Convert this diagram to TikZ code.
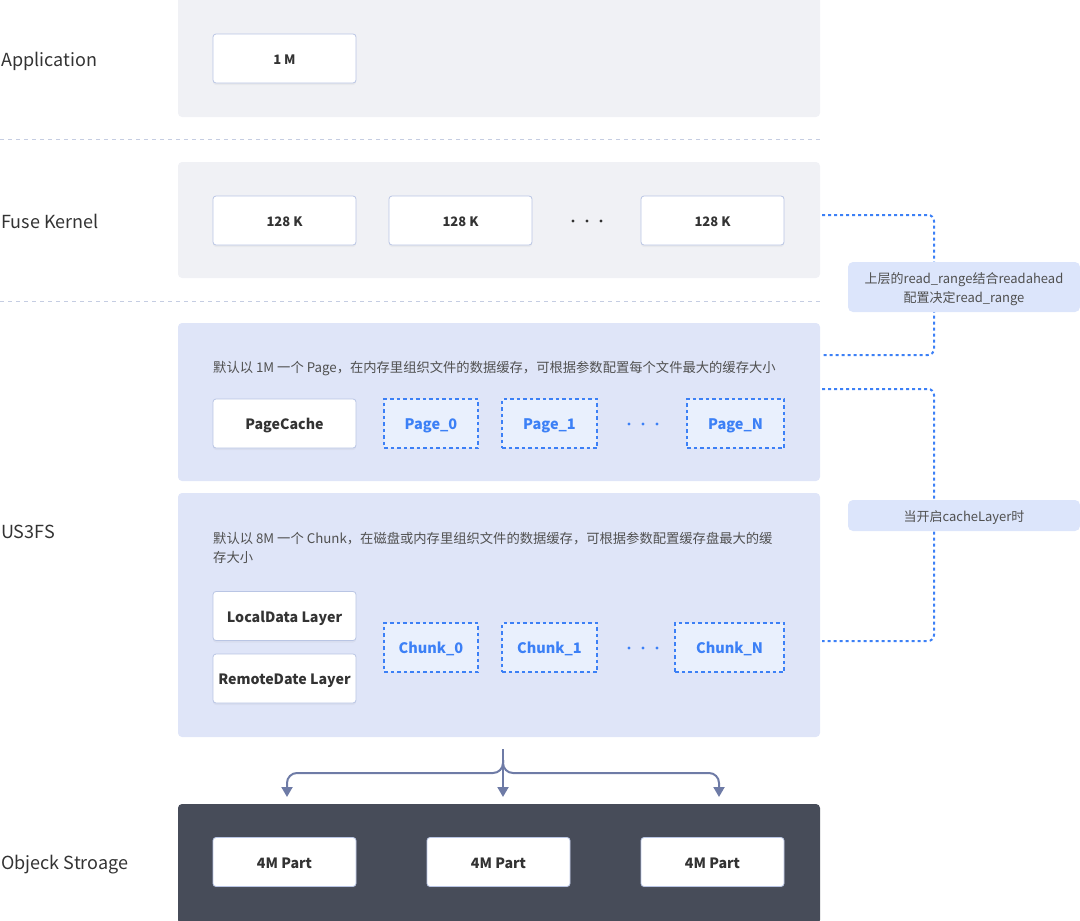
\documentclass[tikz,border=0pt]{standalone}
\usepackage{fontspec}
\setmainfont{Noto Sans CJK SC}
\usetikzlibrary{arrows.meta,shadows,calc}
\definecolor{grayband}{HTML}{F0F1F5}
\definecolor{blueband}{HTML}{DFE5F8}
\definecolor{darkband}{HTML}{474C59}
\definecolor{boxborder}{HTML}{B9C5E4}
\definecolor{txt}{HTML}{333333}
\definecolor{desc}{HTML}{505050}
\definecolor{bluedashc}{HTML}{3C80F6}
\definecolor{dashfill}{HTML}{E9F0FD}
\definecolor{labelfill}{HTML}{DCE5FB}
\definecolor{sepc}{HTML}{C5CDE2}
\definecolor{arrowc}{HTML}{6E7BA6}
\tikzset{
  band/.style={rounded corners=4pt, inner sep=0pt, draw=none},
  whitebox/.style={fill=white, draw=boxborder, line width=0.8pt, rounded corners=3pt,
    minimum width=143pt, minimum height=49pt, inner sep=0pt,
    font=\bfseries\fontsize{14.2}{17}\selectfont, text=txt,
    text height=16pt, text depth=3.6pt,
    drop shadow={shadow xshift=0pt, shadow yshift=-2pt, opacity=0.07}},
  smallbox/.style={whitebox, font=\bfseries\fontsize{13}{16}\selectfont,
    text height=14.6pt, text depth=3.25pt},
  dashbox/.style={fill=dashfill, draw=bluedashc, line width=1.6pt, dash pattern=on 3.5pt off 3pt,
    minimum height=49pt, inner sep=0pt, text=bluedashc,
    font=\bfseries\fontsize{14.5}{18}\selectfont, text height=16.3pt, text depth=3.6pt},
  layerlabel/.style={anchor=west, inner sep=0pt, text=txt, font=\fontsize{18}{22}\selectfont,
    text height=20.2pt, text depth=4.5pt},
  desctext/.style={anchor=north west, inner sep=0pt, text=desc, align=left,
    font=\fontsize{13.3}{19}\selectfont},
  sep/.style={draw=sepc, line width=1pt, dash pattern=on 4pt off 4pt},
  bluelink/.style={draw=bluedashc, line width=2pt, dash pattern=on 3pt off 3pt, rounded corners=6pt},
  notebox/.style={fill=labelfill, rounded corners=5pt, inner sep=0pt, text=desc,
    align=center, font=\fontsize{13}{19}\selectfont, minimum width=232pt},
  arr/.style={draw=arrowc, line width=2pt, -{Triangle[width=11pt,length=10pt]}},
  dotc/.style={circle, inner sep=0pt, minimum size=3.4pt}
}
\begin{document}
\begin{tikzpicture}[x=1pt,y=-1pt]
\useasboundingbox (0,0) rectangle (1080,921);
% bands
\node[band, fill=grayband, minimum width=642pt, minimum height=121pt] (appband) at (499,56.5) {};
\node[band, fill=grayband, minimum width=642pt, minimum height=116pt] (fuseband) at (499,220) {};
\node[band, fill=blueband, minimum width=642pt, minimum height=158pt] (pageband) at (499,402) {};
\node[band, fill=blueband, minimum width=642pt, minimum height=244pt] (chunkband) at (499,615) {};
\node[band, fill=darkband, minimum width=642pt, minimum height=120pt] (objband) at (499,864) {};
% separators
\coordinate (s1a) at (0,139); \coordinate (s1b) at (820,139);
\coordinate (s2a) at (0,301); \coordinate (s2b) at (820,301);
\draw[sep] (s1a) -- (s1b);
\draw[sep] (s2a) -- (s2b);
% layer labels
\node[layerlabel] (lapp) at (1,58.5) {Application};
\node[layerlabel] (lfuse) at (1,220.5) {Fuse Kernel};
\node[layerlabel] (lus3) at (1,530.5) {US3FS};
\node[layerlabel] (lobj) at (1,861.5) {Objeck Stroage};
% application
\node[smallbox] (m1) at (284.5,58.5) {1 M};
% fuse
\node[smallbox] (k1) at (284.5,220.5) {128 K};
\node[smallbox] (k2) at (460.5,220.5) {128 K};
\node[smallbox] (k3) at (712.5,220.5) {128 K};
\foreach \x/\n in {573/a,587/b,601/c} \node[dotc, fill=txt] (fd\n) at (\x,221) {};
% page layer
\node[desctext] (pdesc) at (213,361) {默认以 1M 一个 Page，在内存里组织文件的数据缓存，可根据参数配置每个文件最大的缓存大小};
\node[whitebox] (pc) at (284.5,423.5) {PageCache};
\node[dashbox, minimum width=94pt] (p0) at (431,423.5) {Page\_0};
\node[dashbox, minimum width=95pt] (p1) at (549.5,423.5) {Page\_1};
\node[dashbox, minimum width=97pt] (pn) at (735.5,423.5) {Page\_N};
\foreach \x/\n in {629/a,643/b,657/c} \node[dotc, fill=bluedashc] (pd\n) at (\x,424) {};
% chunk layer
\node[desctext] (cdesc) at (213,531.5) {默认以 8M 一个 Chunk，在磁盘或内存里组织文件的数据缓存，可根据参数配置缓存盘最大的缓\\存大小};
\node[whitebox] (ld) at (284.5,616) {LocalData Layer};
\node[whitebox] (rd) at (284.5,678.5) {RemoteDate Layer};
\node[dashbox, minimum width=94pt] (c0) at (431,647.5) {Chunk\_0};
\node[dashbox, minimum width=95pt] (c1) at (549.5,647.5) {Chunk\_1};
\node[dashbox, minimum width=109pt] (cn) at (729.5,647.5) {Chunk\_N};
\foreach \x/\n in {629/a,643/b,657/c} \node[dotc, fill=bluedashc] (cd\n) at (\x,648) {};
% object storage
\node[whitebox] (o1) at (284.5,862) {4M Part};
\node[whitebox] (o2) at (498.5,862) {4M Part};
\node[whitebox] (o3) at (712.5,862) {4M Part};
% arrows
\coordinate (tr0) at (503,749);
\coordinate (trb) at (503,760);
\coordinate (tl) at (287,797);
\coordinate (tm) at (503,797);
\coordinate (trr) at (719,797);
\coordinate (hl) at (287,773);
\coordinate (hr) at (719,773);
\draw[arr] (tr0) -- (tm);
\draw[arr, rounded corners=10pt] (trb) |- (hl) -- (tl);
\draw[arr, rounded corners=10pt] (trb) |- (hr) -- (trr);
% right links
\coordinate (a1) at (822,215); \coordinate (a2) at (934,355); \coordinate (a3) at (822,355);
\draw[bluelink] (a1) -| (a2) -- (a3);
\coordinate (b1) at (822,389); \coordinate (b2) at (934,641); \coordinate (b3) at (822,641);
\draw[bluelink] (b1) -| (b2) -- (b3);
\node[notebox, minimum height=50pt, text height=33.9pt, text depth=3.3pt] (n1) at (964,287) {上层的read\_range结合readahead\\配置决定read\_range};
\node[notebox, minimum height=31pt, text height=14.6pt, text depth=3.25pt] (n2) at (964,515.5) {当开启cacheLayer时};
\end{tikzpicture}
\end{document}
